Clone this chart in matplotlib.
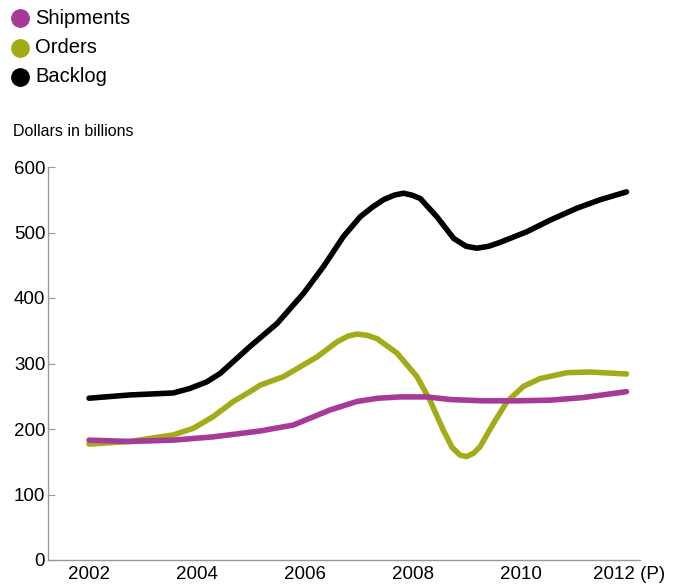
import numpy as np
import matplotlib.pyplot as plt
from matplotlib.lines import Line2D

plt.rcParams['font.family'] = ['Liberation Sans', 'DejaVu Sans']

# values (dollars in billions)
backlog_x = [2002.0, 2002.76, 2003.56, 2003.87, 2004.18, 2004.43, 2004.98, 2005.48, 2005.97,
             2006.34, 2006.71, 2007.02, 2007.25, 2007.45, 2007.65, 2007.82, 2007.98, 2008.13,
             2008.44, 2008.75, 2008.98, 2009.18, 2009.4, 2009.61, 2010.1, 2010.54, 2011.03,
             2011.46, 2011.95]
backlog_y = [247, 252, 255, 262, 272, 285, 326, 361, 407,
             448, 494, 524, 539, 550, 557, 560, 557, 552,
             524, 491, 479, 476, 479, 485, 501, 519, 537,
             550, 562]

orders_x = [2002.0, 2002.76, 2003.56, 2003.93, 2004.3, 2004.67, 2004.98, 2005.17, 2005.6,
            2006.22, 2006.59, 2006.8, 2006.96, 2007.15, 2007.33, 2007.7, 2008.07, 2008.31,
            2008.56, 2008.72, 2008.87, 2008.99, 2009.12, 2009.24, 2009.49, 2009.74, 2010.04,
            2010.35, 2010.85, 2011.28, 2011.95]
orders_y = [177, 181, 191, 201, 219, 242, 257, 267, 280,
            310, 333, 342, 345, 343, 338, 316, 280, 244,
            198, 172, 160, 158, 163, 173, 209, 242, 265,
            277, 286, 287, 284]

ship_x = [2002.0, 2002.76, 2003.56, 2004.3, 2005.17, 2005.78, 2006.46, 2006.96, 2007.35,
          2007.76, 2008.25, 2008.69, 2009.3, 2009.9, 2010.54, 2011.15, 2011.95]
ship_y = [183, 181, 183, 188, 197, 206, 229, 242, 247,
          249, 249, 245, 243, 243, 244, 248, 257]

years = [2002, 2004, 2006, 2008, 2010, 2012]
year_labels = ['2002', '2004', '2006', '2008', '2010', '2012 (P)']
yticks = [0, 100, 200, 300, 400, 500, 600]
legend_labels = ['Shipments', 'Orders', 'Backlog']

c_ship = '#a63a96'
c_orders = '#a4ab18'
c_backlog = '#000000'
colors = [c_ship, c_orders, c_backlog]

fig = plt.figure(figsize=(6.88, 5.84), dpi=100)
ax = fig.add_axes([48/688, 1-560/584, (640-48)/688, (560-167)/584])

for x, y, c in [(backlog_x, backlog_y, c_backlog), (orders_x, orders_y, c_orders),
                (ship_x, ship_y, c_ship)]:
    ax.plot(x, y, color=c, lw=4, solid_capstyle='round', solid_joinstyle='round')

ax.set_xlim(2001.24, 2012.2)
ax.set_ylim(0, 600)
ax.set_yticks(yticks)
ax.set_xticks(years)
ax.set_xticklabels(year_labels)
for s in ['top', 'right']:
    ax.spines[s].set_visible(False)
for s in ['left', 'bottom']:
    ax.spines[s].set_color('#999999')
    ax.spines[s].set_linewidth(1)
ax.tick_params(axis='y', direction='in', length=5, color='#999999', labelsize=13.5, pad=2)
ax.tick_params(axis='x', length=0, labelsize=13.5, pad=4)

fig.text(13/688, 1-132/584, 'Dollars in billions', fontsize=11.5, va='center', ha='left')

# legend drawn by hand: circle + label per row
for i, (lab, c) in enumerate(zip(legend_labels, colors)):
    yy = 1 - (18 + i*29.5)/584
    fig.add_artist(Line2D([20/688], [yy], transform=fig.transFigure, ls='none',
                          marker='o', ms=12.5, color=c))
    fig.text(35/688, yy, lab, fontsize=14.5, va='center', ha='left')

fig.savefig('out.png', dpi=100)
